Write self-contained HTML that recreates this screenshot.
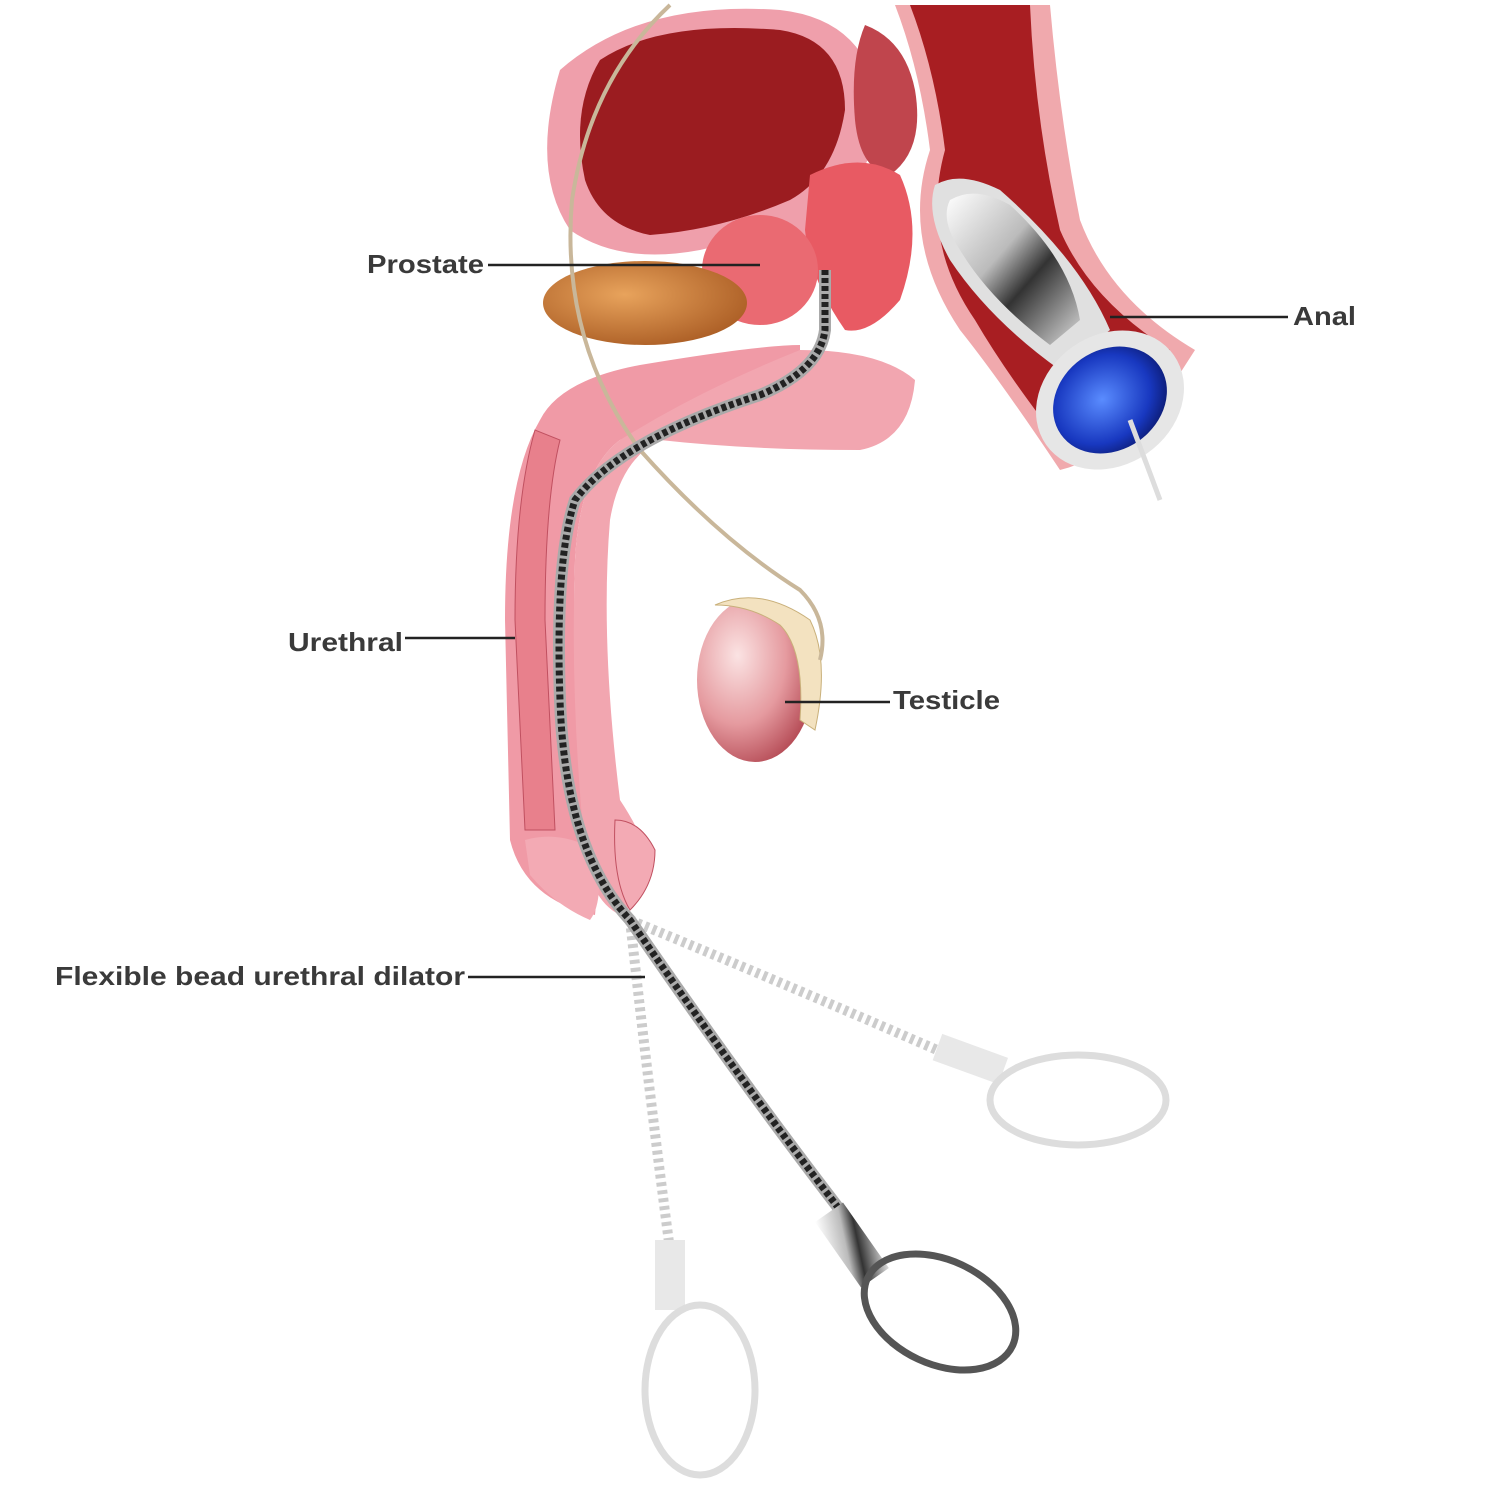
<!DOCTYPE html>
<html><head><meta charset="utf-8"><style>
html,body{margin:0;padding:0;background:#fff;}
svg{display:block}
text{font-family:"Liberation Sans",sans-serif;font-size:26px;font-weight:bold;fill:#3a3a3a;}
</style></head><body>
<svg width="1500" height="1500" viewBox="0 0 1500 1500" xmlns="http://www.w3.org/2000/svg">
<defs>
<radialGradient id="tes" cx="0.35" cy="0.35" r="0.7"><stop offset="0" stop-color="#fbe3e3"/><stop offset="0.6" stop-color="#e59a9f"/><stop offset="1" stop-color="#b8505a"/></radialGradient>
<radialGradient id="bone" cx="0.4" cy="0.4" r="0.7"><stop offset="0" stop-color="#e8a35c"/><stop offset="1" stop-color="#a85a22"/></radialGradient>
<radialGradient id="blue" cx="0.45" cy="0.45" r="0.6"><stop offset="0" stop-color="#5a8cff"/><stop offset="0.7" stop-color="#1838c0"/><stop offset="1" stop-color="#0c1a70"/></radialGradient>
<linearGradient id="silver" x1="0" y1="0" x2="1" y2="1"><stop offset="0" stop-color="#fff"/><stop offset="0.4" stop-color="#bbb"/><stop offset="0.6" stop-color="#333"/><stop offset="1" stop-color="#ddd"/></linearGradient>
</defs>

<path d="M895 5 L1050 5 Q1060 120 1080 220 Q1110 300 1195 350 L1150 420 Q1100 460 1060 470 Q1000 380 960 330 Q900 240 930 150 Q920 70 895 5Z" fill="#f0a9ad"/>
<path d="M910 5 L1030 5 Q1035 120 1060 230 Q1090 300 1170 350 L1070 455 Q1010 380 975 320 Q920 240 945 150 Q935 70 910 5Z" fill="#a81e22"/>
<path d="M935 185 Q960 170 1000 190 Q1080 260 1110 330 L1060 370 Q990 320 950 260 Q925 215 935 185Z" fill="#e0e0e0"/>
<path d="M950 200 Q975 185 1010 205 Q1070 260 1080 320 L1050 345 Q990 300 960 250 Q940 220 950 200Z" fill="url(#silver)"/>
<ellipse cx="1110" cy="400" rx="78" ry="65" transform="rotate(-35 1110 400)" fill="#e6e6e6"/>
<ellipse cx="1110" cy="400" rx="60" ry="50" transform="rotate(-35 1110 400)" fill="url(#blue)"/>
<path d="M1130 420 L1160 500" stroke="#ddd" stroke-width="5"/>

<path d="M560 70 Q640 0 780 10 Q870 20 880 110 Q870 190 820 210 L810 250 Q760 235 700 250 Q620 265 570 230 Q530 170 560 70Z" fill="#ef9fab"/>
<path d="M600 60 Q660 20 780 30 Q845 40 845 110 Q835 175 790 200 Q720 230 650 235 Q600 225 585 180 Q570 110 600 60Z" fill="#9b1c20"/>
<path d="M865 25 Q905 40 915 90 Q925 150 890 175 Q860 170 855 120 Q850 60 865 25Z" fill="#c0454d"/>
<path d="M810 175 Q860 150 900 175 Q925 230 900 300 Q870 335 845 330 Q810 280 805 230Z" fill="#e85a63"/>
<ellipse cx="760" cy="270" rx="58" ry="55" fill="#ea6a72"/>
<ellipse cx="645" cy="303" rx="102" ry="42" fill="url(#bone)"/>

<path d="M800 345 Q760 345 640 365 Q560 380 540 420 Q505 480 505 620 L510 840 Q525 900 595 915 Q600 870 595 840 Q570 700 575 560 Q580 470 620 440 Q700 410 800 390Z" fill="#f09aa6"/>
<path d="M535 430 Q515 500 515 620 L525 830 L555 830 L545 620 Q545 500 560 440Z" fill="#e8808c" stroke="#c05060" stroke-width="1"/>
<path d="M800 350 Q880 350 915 380 Q910 440 860 450 Q750 450 660 440 Q620 460 610 520 Q600 640 620 800 Q640 830 650 860 Q645 900 620 915 Q590 900 585 850 Q570 700 575 560 Q580 470 620 440 Q700 390 800 350Z" fill="#f2a6b0"/>
<path d="M525 840 Q560 830 595 850 Q605 900 590 920 Q555 905 530 875Z" fill="#f3aab4"/>
<path d="M615 820 Q640 820 655 850 Q655 885 630 910 Q612 880 615 820Z" fill="#f3aab4" stroke="#c05060"/>

<ellipse cx="755" cy="680" rx="58" ry="82" fill="url(#tes)"/>
<path d="M715 605 Q760 585 810 620 Q830 660 815 730 L800 720 Q805 650 780 625 Q750 605 715 605Z" fill="#f3e2c0" stroke="#c9b07a"/>
<path d="M670 5 Q590 80 572 200 Q560 340 640 450 Q720 540 800 590 Q830 620 820 660" fill="none" stroke="#c9b79a" stroke-width="4"/>

<path d="M630 920 Q800 990 960 1060" fill="none" stroke="#ccc" stroke-width="10" stroke-dasharray="4 4"/>
<rect x="935" y="1045" width="70" height="28" fill="#e8e8e8" transform="rotate(20 970 1060)"/>
<ellipse cx="1078" cy="1100" rx="88" ry="45" fill="none" stroke="#ddd" stroke-width="7"/>
<path d="M630 920 Q650 1100 670 1250" fill="none" stroke="#ccc" stroke-width="10" stroke-dasharray="4 4"/>
<rect x="655" y="1240" width="30" height="70" fill="#e8e8e8"/>
<ellipse cx="700" cy="1390" rx="55" ry="85" fill="none" stroke="#ddd" stroke-width="7"/>

<path d="M825 270 L825 330 Q820 370 760 395 Q620 440 575 500 Q555 560 560 700 Q565 850 630 920 Q740 1080 840 1210" fill="none" stroke="#aaa" stroke-width="12"/>
<path d="M825 270 L825 330 Q820 370 760 395 Q620 440 575 500 Q555 560 560 700 Q565 850 630 920 Q740 1080 840 1210" fill="none" stroke="#222" stroke-width="7" stroke-dasharray="5 3"/>
<rect x="835" y="1205" width="34" height="80" fill="url(#silver)" transform="rotate(-35 852 1245)"/>
<ellipse cx="940" cy="1312" rx="80" ry="52" transform="rotate(25 940 1312)" fill="none" stroke="#555" stroke-width="7"/>

<text x="367" y="273" textLength="117" lengthAdjust="spacingAndGlyphs">Prostate</text><line x1="488" y1="265" x2="760" y2="265" stroke="#222" stroke-width="2.5"/>
<text x="1293" y="325" textLength="63" lengthAdjust="spacingAndGlyphs">Anal</text><line x1="1110" y1="317" x2="1288" y2="317" stroke="#222" stroke-width="2.5"/>
<text x="288" y="651" textLength="115" lengthAdjust="spacingAndGlyphs">Urethral</text><line x1="405" y1="638" x2="515" y2="638" stroke="#222" stroke-width="2.5"/>
<text x="893" y="709" textLength="107" lengthAdjust="spacingAndGlyphs">Testicle</text><line x1="785" y1="702" x2="890" y2="702" stroke="#222" stroke-width="2.5"/>
<text x="55" y="985" textLength="410" lengthAdjust="spacingAndGlyphs">Flexible bead urethral dilator</text><line x1="468" y1="977" x2="645" y2="977" stroke="#222" stroke-width="2.5"/>
</svg>
</body></html>
